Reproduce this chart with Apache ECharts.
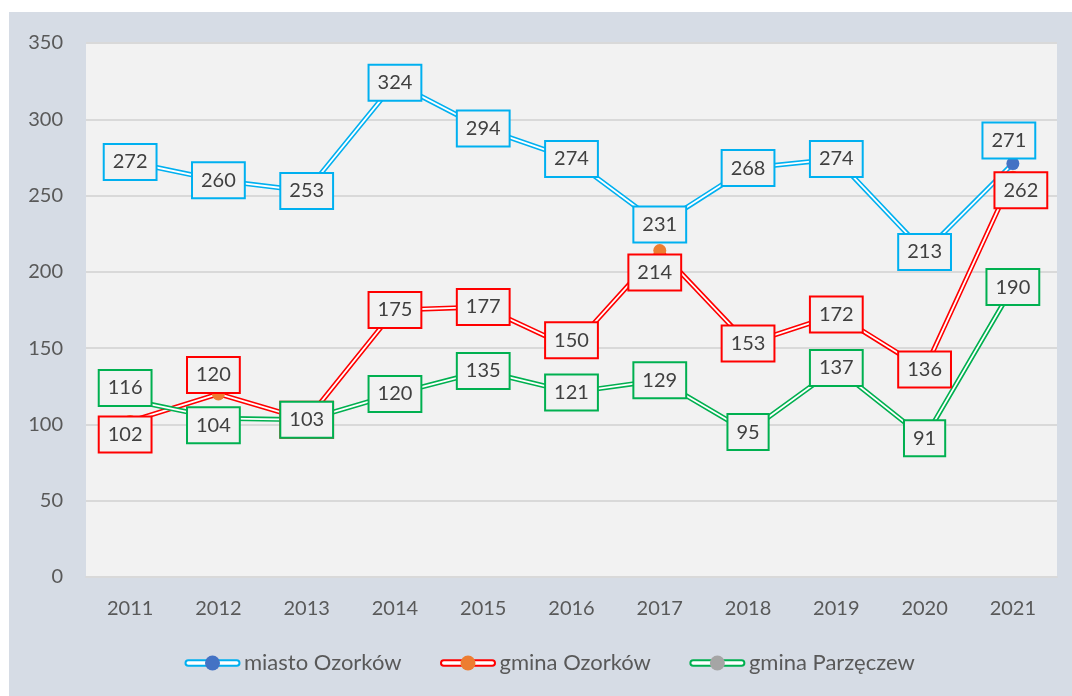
<!DOCTYPE html>
<html>
<head>
<meta charset="utf-8">
<script src="https://cdn.jsdelivr.net/npm/echarts@6/dist/echarts.min.js"></script>
<style>
  html, body { margin: 0; padding: 0; background: #ffffff; }
  #chart { position: absolute; left: 9px; top: 12px; width: 1063px; height: 684px; }
</style>
</head>
<body>
<div id="chart"></div>
<script>
// Years on the category axis
const years = ['2011', '2012', '2013', '2014', '2015', '2016', '2017', '2018', '2019', '2020', '2021'];

// Yearly values per area
const miastoOzorkow = [272, 260, 253, 324, 294, 274, 231, 268, 274, 213, 271];
const gminaOzorkow = [102, 120, 103, 175, 177, 150, 214, 153, 172, 136, 262];
const gminaParzeczew = [116, 104, 103, 120, 135, 121, 129, 95, 137, 91, 190];

const seriesNames = ['miasto Ozorków', 'gmina Ozorków', 'gmina Parzęczew'];
const seriesValues = [miastoOzorkow, gminaOzorkow, gminaParzeczew];

// Y axis ticks
const yMin = 0, yMax = 350, yStep = 50;

// Line colour and marker colour per series
const palette = [
  { line: '#00b0f0', marker: '#4472c4' },
  { line: '#ff0000', marker: '#ed7d31' },
  { line: '#00b050', marker: '#a5a5a5' }
];

// Labels nudged away from neighbouring labels: index -> [dx, dy]
const labelNudge = [
  { 10: [-4, -23] },
  { 0: [-5, 13], 1: [-5, -19], 5: [0, -8], 6: [-5, 22], 10: [8, 13] },
  { 0: [-5, -12], 1: [-5, 7] }
];

const FONT = 'Lato';

// Legend icon: double line with a round marker in the middle
function legendIcon(lineColor, markerColor) {
  const svg =
    '<svg xmlns="http://www.w3.org/2000/svg" width="57" height="16" viewBox="0 0 57 16">' +
    '<rect x="1.5" y="5.2" width="54" height="5.6" rx="2.8" ry="2.8" fill="#ffffff" stroke="' + lineColor + '" stroke-width="2"/>' +
    '<circle cx="28.5" cy="8" r="7.5" fill="' + markerColor + '"/>' +
    '</svg>';
  return 'image://data:image/svg+xml;charset=utf-8,' + encodeURIComponent(svg);
}

const series = [];

// Double lines: a wide coloured stroke with a thin white stroke on top, markers on the white one
seriesValues.forEach(function (vals, i) {
  series.push({
    name: seriesNames[i],
    type: 'line',
    data: vals,
    symbol: 'none',
    silent: true,
    z: 2,
    lineStyle: { color: palette[i].line, width: 5 },
    emphasis: { disabled: true }
  });
  series.push({
    name: seriesNames[i],
    type: 'line',
    data: vals,
    symbol: 'circle',
    symbolSize: 13,
    showSymbol: true,
    silent: true,
    z: 2,
    itemStyle: { color: palette[i].marker },
    lineStyle: { color: '#ffffff', width: 1.8 },
    emphasis: { disabled: true }
  });
});

// Boxed value labels, drawn above every line
seriesValues.forEach(function (vals, i) {
  series.push({
    name: seriesNames[i],
    type: 'scatter',
    z: 10 + i,
    symbolSize: 1,
    silent: true,
    itemStyle: { color: 'rgba(0,0,0,0)', opacity: 1 },
    emphasis: { disabled: true },
    label: {
      show: true,
      position: 'inside',
      formatter: function (p) { return String(p.value); },
      fontFamily: FONT,
      fontSize: 20,
      lineHeight: 22,
      color: '#404040',
      opacity: 1,
      backgroundColor: '#f2f2f2',
      borderColor: palette[i].line,
      borderWidth: 2,
      padding: [7, 8, 5, 8]
    },
    data: vals.map(function (v, k) {
      const nudge = labelNudge[i][k];
      return nudge ? { value: v, label: { offset: nudge } } : { value: v };
    })
  });
});

const chart = echarts.init(document.getElementById('chart'));
chart.setOption({
  animation: false,
  backgroundColor: '#d6dce5',
  textStyle: { fontFamily: FONT },
  grid: {
    left: 77, right: 15, top: 31, bottom: 119,
    show: true, backgroundColor: '#f2f2f2', borderWidth: 0
  },
  legend: {
    left: 175,
    top: 640,
    itemWidth: 57,
    itemHeight: 16,
    itemGap: 38,
    padding: 0,
    selectedMode: false,
    textStyle: { fontFamily: FONT, fontSize: 22, color: '#595959', padding: [0, 0, 0, -2] },
    data: seriesNames.map(function (n, i) {
      return { name: n, icon: legendIcon(palette[i].line, palette[i].marker) };
    })
  },
  xAxis: {
    type: 'category',
    data: years,
    boundaryGap: true,
    axisLine: { show: true, lineStyle: { color: '#d9d9d9', width: 2 } },
    axisTick: { show: false },
    axisLabel: { fontFamily: FONT, fontSize: 20, color: '#595959', margin: 22 },
    splitLine: { show: false }
  },
  yAxis: {
    type: 'value',
    min: yMin,
    max: yMax,
    interval: yStep,
    axisLine: { show: false },
    axisTick: { show: false },
    axisLabel: { fontFamily: FONT, fontSize: 20, color: '#595959', margin: 23 },
    splitLine: { lineStyle: { color: '#d9d9d9', width: 2 } }
  },
  series: series
});
</script>
</body>
</html>
